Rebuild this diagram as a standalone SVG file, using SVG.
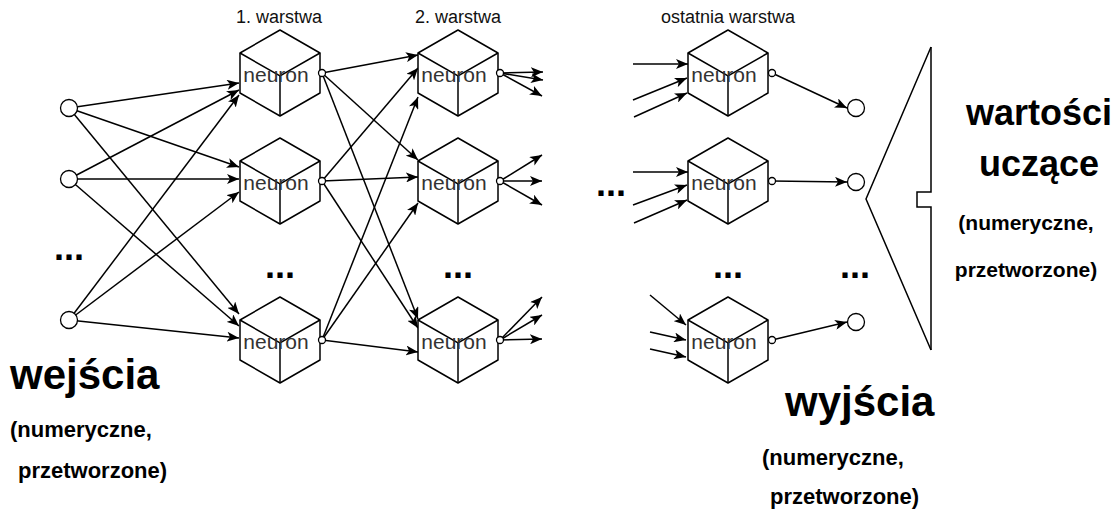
<svg xmlns="http://www.w3.org/2000/svg" width="1117" height="517" viewBox="0 0 1117 517">
  <style>
    .edge { fill: none; stroke: #000; stroke-width: 1.5; marker-end: url(#arrow); }
    .plain { fill: none; stroke: #000; stroke-width: 1.5; }
    .cube { fill: #fff; stroke: #000; stroke-width: 1.5; stroke-linejoin: round; }
    .inner { fill: none; stroke: #000; stroke-width: 1.5; }
    .port { fill: #fff; stroke: #000; stroke-width: 1.3; }
    .node { fill: #fff; stroke: #000; stroke-width: 1.3; }
    .lbl { font-family: "Liberation Sans", Arial, sans-serif; font-size: 21px; fill: #333; text-anchor: middle; }
    .title { font-family: "Liberation Sans", Arial, sans-serif; font-size: 18px; fill: #111; text-anchor: middle; }
    .dots { font-family: "Liberation Sans", Arial, sans-serif; font-size: 36px; font-weight: bold; fill: #000; }
    .big { font-family: "Liberation Sans", Arial, sans-serif; font-size: 42px; font-weight: bold; fill: #000; }
    .big2 { font-family: "Liberation Sans", Arial, sans-serif; font-size: 36px; font-weight: bold; fill: #000; text-anchor: middle; }
    .sub { font-family: "Liberation Sans", Arial, sans-serif; font-size: 22px; font-weight: bold; fill: #000; }
    .sub2 { font-family: "Liberation Sans", Arial, sans-serif; font-size: 21px; font-weight: bold; fill: #000; text-anchor: middle; }
  </style>
  <defs>
    <marker id="arrow" viewBox="0 0 12 10" refX="12" refY="5" markerWidth="12" markerHeight="10" markerUnits="userSpaceOnUse" orient="auto">
      <path d="M0,0 L12,5 L0,10 L3,5 Z" fill="#000"/>
    </marker>
    <!-- isometric cube, top vertex at origin -->
    <g id="cube">
      <polygon class="cube" points="0,0 40,23 40,63 0,86 -40,63 -40,23"/>
      <polyline class="inner" points="-40,23 0,46 40,23"/>
      <line class="inner" x1="0" y1="46" x2="0" y2="86"/>
    </g>
  </defs>

  <rect width="1117" height="517" fill="#fff"/>

  <!-- connectors -->
  <g id="connectors">
    <!-- inputs to layer 1 -->
    <line class="edge" x1="69" y1="108" x2="239" y2="83"/>
    <line class="edge" x1="69" y1="108" x2="239" y2="167"/>
    <line class="edge" x1="69" y1="108" x2="239" y2="314"/>
    <line class="edge" x1="69" y1="179" x2="239" y2="90"/>
    <line class="edge" x1="69" y1="179" x2="239" y2="179"/>
    <line class="edge" x1="69" y1="179" x2="239" y2="326"/>
    <line class="edge" x1="69" y1="320" x2="239" y2="95"/>
    <line class="edge" x1="69" y1="320" x2="239" y2="192"/>
    <line class="edge" x1="69" y1="320" x2="239" y2="338"/>
    <!-- layer 1 to layer 2 -->
    <line class="edge" x1="322" y1="73" x2="418" y2="55"/>
    <line class="edge" x1="322" y1="73" x2="418" y2="160"/>
    <line class="edge" x1="322" y1="73" x2="418" y2="319"/>
    <line class="edge" x1="322" y1="181" x2="418" y2="68"/>
    <line class="edge" x1="322" y1="181" x2="418" y2="177"/>
    <line class="edge" x1="322" y1="181" x2="418" y2="328"/>
    <line class="edge" x1="322" y1="340" x2="418" y2="97"/>
    <line class="edge" x1="322" y1="340" x2="418" y2="203"/>
    <line class="edge" x1="322" y1="340" x2="418" y2="352"/>
    <!-- layer 2 outputs -->
    <line class="edge" x1="500" y1="73" x2="543" y2="72"/>
    <line class="edge" x1="500" y1="73" x2="543" y2="80"/>
    <line class="edge" x1="500" y1="73" x2="542" y2="96"/>
    <line class="edge" x1="500" y1="181" x2="542" y2="155"/>
    <line class="edge" x1="500" y1="181" x2="542" y2="181"/>
    <line class="edge" x1="500" y1="181" x2="542" y2="205"/>
    <line class="edge" x1="500" y1="340" x2="542" y2="297"/>
    <line class="edge" x1="500" y1="340" x2="542" y2="315"/>
    <line class="edge" x1="500" y1="340" x2="542" y2="339"/>
    <!-- last layer inputs -->
    <line class="edge" x1="633" y1="64" x2="688" y2="64"/>
    <line class="edge" x1="633" y1="100" x2="687" y2="78"/>
    <line class="edge" x1="634" y1="117" x2="687" y2="93"/>
    <line class="edge" x1="633" y1="172" x2="688" y2="172"/>
    <line class="edge" x1="633" y1="205" x2="687" y2="185"/>
    <line class="edge" x1="634" y1="223" x2="687" y2="200"/>
    <line class="edge" x1="650" y1="295" x2="686" y2="325"/>
    <line class="edge" x1="650" y1="332" x2="686" y2="340"/>
    <line class="edge" x1="650" y1="349" x2="686" y2="357"/>
    <!-- last layer to outputs -->
    <line class="edge" x1="772" y1="73" x2="847" y2="108"/>
    <line class="edge" x1="772" y1="181" x2="847" y2="182"/>
    <line class="edge" x1="772" y1="340" x2="847" y2="322"/>
  </g>

  <!-- input nodes -->
  <g id="in1"><circle class="node" cx="69" cy="108" r="8.5"/></g>
  <g id="in2"><circle class="node" cx="69" cy="179" r="8.5"/></g>
  <g id="in3"><circle class="node" cx="69" cy="320" r="8.5"/></g>

  <!-- layer 1 -->
  <g id="l1n1" transform="translate(280,30)"><use href="#cube"/><circle class="port" cx="42" cy="43" r="3.5"/><text class="lbl" x="-4" y="52">neuron</text></g>
  <g id="l1n2" transform="translate(280,138)"><use href="#cube"/><circle class="port" cx="42" cy="43" r="3.5"/><text class="lbl" x="-4" y="52">neuron</text></g>
  <g id="l1n3" transform="translate(280,297)"><use href="#cube"/><circle class="port" cx="42" cy="43" r="3.5"/><text class="lbl" x="-4" y="52">neuron</text></g>

  <!-- layer 2 -->
  <g id="l2n1" transform="translate(458,30)"><use href="#cube"/><circle class="port" cx="42" cy="43" r="3.5"/><text class="lbl" x="-4" y="52">neuron</text></g>
  <g id="l2n2" transform="translate(458,138)"><use href="#cube"/><circle class="port" cx="42" cy="43" r="3.5"/><text class="lbl" x="-4" y="52">neuron</text></g>
  <g id="l2n3" transform="translate(458,297)"><use href="#cube"/><circle class="port" cx="42" cy="43" r="3.5"/><text class="lbl" x="-4" y="52">neuron</text></g>

  <!-- last layer -->
  <g id="lnn1" transform="translate(728,30)"><use href="#cube"/><circle class="port" cx="44" cy="43" r="3.5"/><text class="lbl" x="-4" y="52">neuron</text></g>
  <g id="lnn2" transform="translate(728,138)"><use href="#cube"/><circle class="port" cx="44" cy="43" r="3.5"/><text class="lbl" x="-4" y="52">neuron</text></g>
  <g id="lnn3" transform="translate(728,297)"><use href="#cube"/><circle class="port" cx="44" cy="43" r="3.5"/><text class="lbl" x="-4" y="52">neuron</text></g>

  <!-- output nodes -->
  <g id="out1"><circle class="node" cx="856" cy="108" r="8.5"/></g>
  <g id="out2"><circle class="node" cx="856" cy="182" r="8.5"/></g>
  <g id="out3"><circle class="node" cx="856" cy="322" r="8.5"/></g>

  <!-- layer titles -->
  <g id="titles">
    <text class="title" x="279" y="23">1. warstwa</text>
    <text class="title" x="458" y="23">2. warstwa</text>
    <text class="title" x="728" y="23">ostatnia warstwa</text>
  </g>

  <!-- ellipses -->
  <g id="ellipses">
    <text class="dots" x="54" y="260">...</text>
    <text class="dots" x="265" y="278">...</text>
    <text class="dots" x="443" y="278">...</text>
    <text class="dots" x="596" y="196">...</text>
    <text class="dots" x="713" y="278">...</text>
    <text class="dots" x="840" y="278">...</text>
  </g>

  <!-- training values bracket -->
  <g id="bracket">
    <polyline class="plain" points="931,47 866,199 931,350"/>
    <polyline class="plain" points="931,47 931,192 917,192 917,207 931,207 931,350"/>
  </g>

  <!-- labels -->
  <g id="inputs-label">
    <text class="big" x="10" y="389">wejścia</text>
    <text class="sub" x="10" y="437">(numeryczne,</text>
    <text class="sub" x="18" y="478">przetworzone)</text>
  </g>
  <g id="outputs-label">
    <text class="big" x="785" y="416">wyjścia</text>
    <text class="sub" x="762" y="465">(numeryczne,</text>
    <text class="sub" x="770" y="504">przetworzone)</text>
  </g>
  <g id="targets-label">
    <text class="big2" x="1039" y="125">wartości</text>
    <text class="big2" x="1039" y="176">uczące</text>
    <text class="sub2" x="1026" y="230">(numeryczne,</text>
    <text class="sub2" x="1026" y="277">przetworzone)</text>
  </g>
</svg>
